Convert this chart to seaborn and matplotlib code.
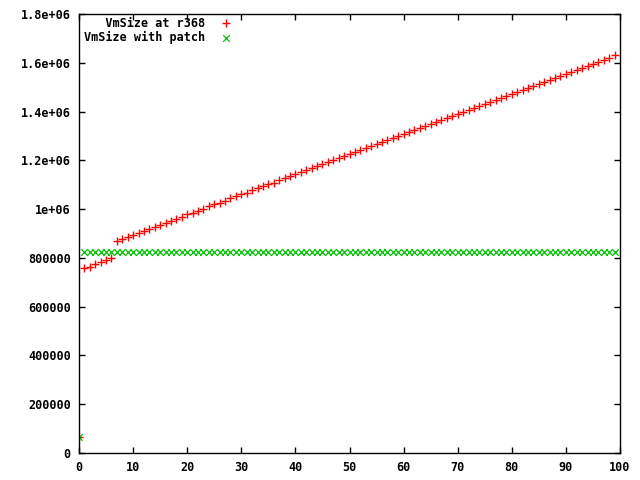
import numpy as np
import pandas as pd
import matplotlib
matplotlib.use("Agg")
import matplotlib.pyplot as plt
import seaborn as sns

x_vals = np.arange(100)

vmsize_r368 = [
    65000, 757000, 764000, 774000, 782000, 791000, 798000, 870000, 879000, 887000,
    895000, 903000, 912000, 920000, 928000, 936000, 944000, 953000, 961000, 969000,
    978000, 986000, 994000, 1002000, 1011000, 1019000, 1027000, 1035000, 1044000, 1052000,
    1060000, 1068000, 1077000, 1085000, 1093000, 1101000, 1109000, 1118000, 1126000, 1134000,
    1143000, 1151000, 1159000, 1167000, 1176000, 1184000, 1192000, 1200000, 1209000, 1217000,
    1225000, 1233000, 1242000, 1250000, 1258000, 1266000, 1274000, 1283000, 1291000, 1299000,
    1308000, 1316000, 1324000, 1332000, 1341000, 1349000, 1357000, 1365000, 1374000, 1382000,
    1390000, 1398000, 1407000, 1415000, 1423000, 1431000, 1439000, 1448000, 1456000, 1464000,
    1473000, 1481000, 1489000, 1497000, 1506000, 1514000, 1522000, 1530000, 1539000, 1547000,
    1555000, 1563000, 1571000, 1580000, 1588000, 1596000, 1604000, 1613000, 1621000, 1630000,
]

vmsize_patch = [
    65000, 823000, 823000, 823000, 823000, 823000, 823000, 823000, 823000, 823000,
    823000, 823000, 823000, 823000, 823000, 823000, 823000, 823000, 823000, 823000,
    823000, 823000, 823000, 823000, 823000, 823000, 823000, 823000, 823000, 823000,
    823000, 823000, 823000, 823000, 823000, 823000, 823000, 823000, 823000, 823000,
    823000, 823000, 823000, 823000, 823000, 823000, 823000, 823000, 823000, 823000,
    823000, 823000, 823000, 823000, 823000, 823000, 823000, 823000, 823000, 823000,
    823000, 823000, 823000, 823000, 823000, 823000, 823000, 823000, 823000, 823000,
    823000, 823000, 823000, 823000, 823000, 823000, 823000, 823000, 823000, 823000,
    823000, 823000, 823000, 823000, 823000, 823000, 823000, 823000, 823000, 823000,
    823000, 823000, 823000, 823000, 823000, 823000, 823000, 823000, 823000, 823000,
]

label_r368 = "   VmSize at r368"
label_patch = "VmSize with patch"

x_ticks = [0, 10, 20, 30, 40, 50, 60, 70, 80, 90, 100]
y_ticks = [0, 200000, 400000, 600000, 800000, 1000000, 1200000, 1400000, 1600000, 1800000]
y_tick_labels = ["0", "200000", "400000", "600000", "800000", "1e+06",
                 "1.2e+06", "1.4e+06", "1.6e+06", "1.8e+06"]

sns.set_style("ticks")
plt.rcParams['font.family'] = ['DejaVu Sans Mono']
plt.rcParams['font.weight'] = 'bold'
plt.rcParams['text.color'] = 'black'
plt.rcParams['xtick.color'] = 'black'
plt.rcParams['ytick.color'] = 'black'

df = pd.DataFrame({"x": x_vals, "r368": vmsize_r368, "patch": vmsize_patch})

fig = plt.figure(figsize=(6.4, 4.8), dpi=100)
ax = fig.add_axes([79/640, 1 - 453/480, (620-79)/640, (453-14)/480])

sns.scatterplot(data=df, x="x", y="r368", marker="+", color="#ff0000", s=38,
                linewidth=1.0, label=label_r368, ax=ax)
sns.scatterplot(data=df, x="x", y="patch", marker="x", color="#00c000", s=22,
                linewidth=0.9, label=label_patch, ax=ax)

ax.set_xlim(0, 100)
ax.set_ylim(0, 1800000)
ax.set_xticks(x_ticks)
ax.set_xticklabels([str(t) for t in x_ticks])
ax.set_yticks(y_ticks)
ax.set_yticklabels(y_tick_labels)
ax.set_xlabel("")
ax.set_ylabel("")

for sp in ax.spines.values():
    sp.set_visible(True)
    sp.set_linewidth(1.0)
    sp.set_color("black")

ax.tick_params(axis="both", which="both", direction="in", length=4, width=1,
               top=True, right=True, labelsize=8.5, pad=6, colors="black")
for lab in ax.get_xticklabels() + ax.get_yticklabels():
    lab.set_fontweight("bold")

leg = ax.legend(loc="upper left", bbox_to_anchor=(0.0, 1.005), frameon=False,
                markerfirst=False, prop={"family": "DejaVu Sans Mono", "weight": "bold", "size": 8.5},
                handletextpad=1.0, labelspacing=0.12, borderaxespad=0.0, handlelength=1.5)
for t in leg.get_texts():
    t.set_color("black")

fig.savefig("out.png", dpi=100)
